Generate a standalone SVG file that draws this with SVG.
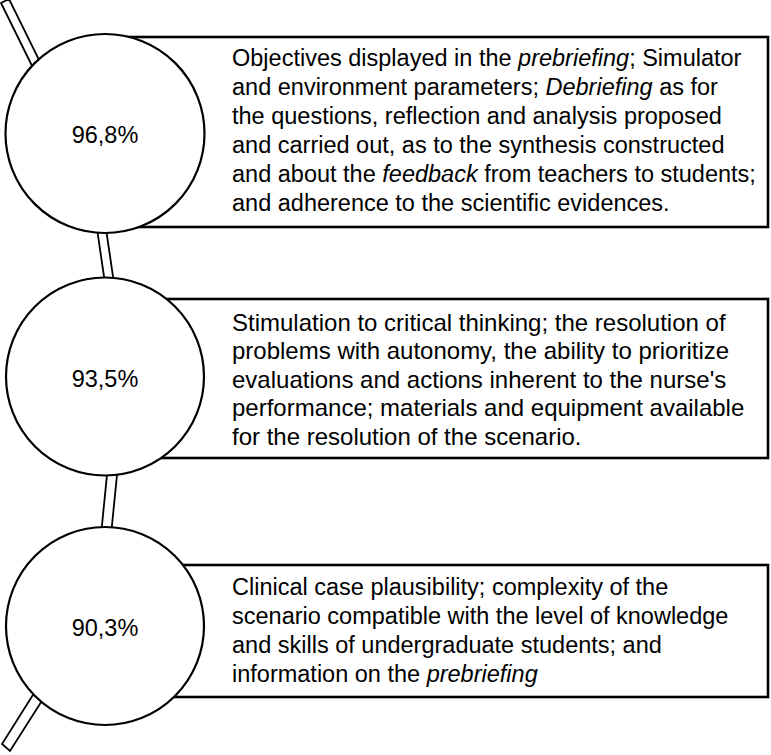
<svg xmlns="http://www.w3.org/2000/svg" width="771" height="755" viewBox="0 0 771 755">
<style>
.box{fill:#fff;stroke:#000;stroke-width:2.6}
.circ{fill:#fff;stroke:#000;stroke-width:2.2}
.conn{fill:#fff;stroke:#000;stroke-width:1.8}
text{font-family:"Liberation Sans",Arial,sans-serif;font-size:23.5px;fill:#000}
.pct{text-anchor:middle}
.b2{font-size:24px}
</style>
<rect width="771" height="755" fill="#fff"/>
<g id="connectors">
<polygon class="conn" points="1,3 9,-1 44,70 36,74"/>
<polygon class="conn" points="96,222 105,222 115,290 106,290"/>
<polygon class="conn" points="108,465 118,465 111,535 101,535"/>
<polygon class="conn" points="36,690 45,696 10,751 2,744"/>
</g>
<g id="node1">
<rect class="box" x="110" y="37" width="658" height="190"/>
<circle class="circ" cx="105" cy="133.5" r="99.5"/>
<text class="pct" x="105" y="143">96,8%</text>
<text x="232" y="66">Objectives displayed in the <tspan font-style="italic">prebriefing</tspan>; Simulator</text>
<text x="232" y="95">and environment parameters; <tspan font-style="italic">Debriefing</tspan> as for</text>
<text x="232" y="124">the questions, reflection and analysis proposed</text>
<text x="232" y="153">and carried out, as to the synthesis constructed</text>
<text x="232" y="182">and about the <tspan font-style="italic">feedback</tspan> from teachers to students;</text>
<text x="232" y="211">and adherence to the scientific evidences.</text>
</g>
<g id="node2">
<rect class="box" x="110" y="299" width="658" height="159"/>
<circle class="circ" cx="105" cy="376.5" r="99"/>
<text class="pct" x="105" y="386.5">93,5%</text>
<text class="b2" x="232" y="330.5">Stimulation to critical thinking; the resolution of</text>
<text class="b2" x="232" y="359">problems with autonomy, the ability to prioritize</text>
<text class="b2" x="232" y="387.5">evaluations and actions inherent to the nurse's</text>
<text class="b2" x="232" y="416">performance; materials and equipment available</text>
<text class="b2" x="232" y="444.5">for the resolution of the scenario.</text>
</g>
<g id="node3">
<rect class="box" x="110" y="565" width="658" height="132"/>
<circle class="circ" cx="105" cy="626" r="99"/>
<text class="pct" x="105" y="636">90,3%</text>
<text x="232" y="595">Clinical case plausibility; complexity of the</text>
<text x="232" y="624">scenario compatible with the level of knowledge</text>
<text x="232" y="653">and skills of undergraduate students; and</text>
<text x="232" y="682">information on the <tspan font-style="italic">prebriefing</tspan></text>
</g>
</svg>
